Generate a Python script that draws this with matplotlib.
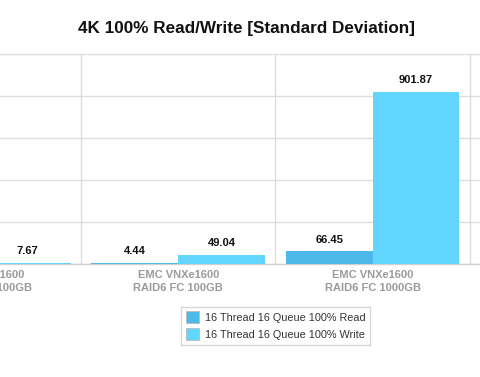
"""
4K 100% Read/Write standard deviation bar chart
"""

import numpy as np
import matplotlib
matplotlib.use("Agg")
import matplotlib.pyplot as plt

plt.rcParams['font.family'] = ['Liberation Sans', 'DejaVu Sans']

# chart data (first read value and last group are cut off in the original)
categories = [
    "EMC VNXe1600\nRAID10 FC 100GB",
    "EMC VNXe1600\nRAID6 FC 100GB",
    "EMC VNXe1600\nRAID6 FC 1000GB",
    "EMC VNXe1600\nRAID10 FC 1000GB",
]
read_values = [5.12, 4.44, 66.45, 78.6]
write_values = [7.67, 49.04, 901.87, 120.3]
series_names = ["16 Thread 16 Queue 100% Read", "16 Thread 16 Queue 100% Write"]
y_ticks = [0, 220, 440, 660, 880, 1100]

read_color = '#4db9ea'
write_color = '#62d6fe'
grid_color = '#dddddd'

fig = plt.figure(figsize=(4.8, 3.77), dpi=100)
# the plot area is wider than the picture, like the cropped original
ax = fig.add_axes([-0.23625, 0.2997, 1.62, 0.557])

x = np.arange(len(categories))
bar_w = 0.447

bars_r = ax.bar(x - bar_w / 2, read_values, bar_w, color=read_color, zorder=3,
                label=series_names[0])
bars_w = ax.bar(x + bar_w / 2, write_values, bar_w, color=write_color, zorder=3,
                label=series_names[1])

for bars in (bars_r, bars_w):
    for b in bars:
        v = b.get_height()
        ax.annotate(f"{v:.2f}", (b.get_x() + b.get_width() / 2, v),
                    xytext=(0, 8.5), textcoords='offset points',
                    ha='center', va='center', fontsize=8, fontweight='bold',
                    color='#111111', zorder=4)

ax.set_xlim(-0.5, len(categories) - 0.5)
ax.set_ylim(0, y_ticks[-1])
ax.set_yticks(y_ticks)
ax.set_yticklabels([])
ax.tick_params(axis='y', length=0)
ax.yaxis.grid(True, color=grid_color, linewidth=1, zorder=0)

# vertical separators between groups
for sep in x[:-1] + 0.5:
    ax.axvline(sep, color=grid_color, linewidth=1, zorder=0)

ax.set_xticks(x)
ax.set_xticklabels(categories, fontsize=8, fontweight='bold', color='#9a9a9a',
                   linespacing=1.45)
ax.tick_params(axis='x', length=0, pad=4)

for side in ('left', 'right', 'top'):
    ax.spines[side].set_visible(False)
ax.spines['bottom'].set_color('#d0d0d0')
ax.spines['bottom'].set_linewidth(1)

fig.text(247 / 480, 1 - 29 / 377, "4K 100% Read/Write [Standard Deviation]",
         ha='center', va='center', fontsize=12.3, fontweight='bold', color='#111111')

leg = fig.legend(handles=[bars_r, bars_w], labels=series_names,
                 loc='upper center', bbox_to_anchor=(275.5 / 480, 1 - 306.5 / 377),
                 fontsize=7.8, frameon=True, fancybox=False, ncol=1,
                 handlelength=1.25, handleheight=1.25, handletextpad=0.5,
                 borderpad=0.45, labelspacing=0.5, borderaxespad=0)
leg.get_frame().set_edgecolor('#cccccc')
leg.get_frame().set_linewidth(1)
for t in leg.get_texts():
    t.set_color('#333333')
for h in leg.legend_handles:
    h.set_edgecolor('#bbbbbb')
    h.set_linewidth(0.6)

fig.savefig('out.png', dpi=100)
